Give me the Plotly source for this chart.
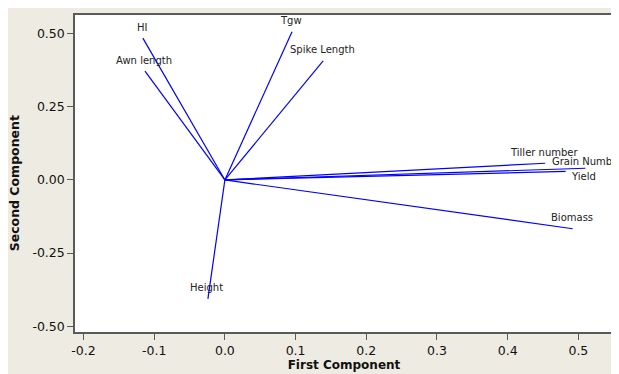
import plotly.graph_objects as go

# Loadings (first and second principal component)
variables = ["HI", "Awn length", "Tgw", "Spike Length", "Tiller number",
             "Grain Number", "Yield", "Biomass", "Height"]
first_component = [-0.116, -0.113, 0.095, 0.139, 0.453, 0.510, 0.482, 0.492, -0.024]
second_component = [0.485, 0.372, 0.507, 0.407, 0.057, 0.040, 0.029, -0.167, -0.407]

x_ticks = [-0.2, -0.1, 0.0, 0.1, 0.2, 0.3, 0.4, 0.5]
x_tick_labels = ["-0.2", "-0.1", "0.0", "0.1", "0.2", "0.3", "0.4", "0.5"]
y_ticks = [-0.50, -0.25, 0.00, 0.25, 0.50]
y_tick_labels = ["-0.50", "-0.25", "0.00", "0.25", "0.50"]

# label offsets in pixels (style only)
label_shift = {"Grain Number": (2, 7), "Yield": (18, -5)}

BEIGE = "#EEEBE2"
FRAME = "#5a5a5a"

xs, ys = [], []
for x, y in zip(first_component, second_component):
    xs += [0, x, None]
    ys += [0, y, None]

fig = go.Figure()
fig.add_trace(go.Scatter(x=xs, y=ys, mode="lines",
                         line=dict(color="#0000FF", width=1.2),
                         hoverinfo="skip", showlegend=False))

for name, x, y in zip(variables, first_component, second_component):
    dx, dy = label_shift.get(name, (-1, 11))
    fig.add_annotation(x=x, y=y, text=name, showarrow=False,
                       xshift=dx, yshift=dy,
                       font=dict(family="DejaVu Sans", size=10, color="#222222"))

# y-axis title placed as an annotation (slightly below plot centre, as in the reference)
fig.add_annotation(xref="paper", yref="paper", x=-0.1134, y=0.469,
                   xanchor="center", yanchor="middle", textangle=-90,
                   text="<b>Second Component</b>", showarrow=False,
                   font=dict(family="DejaVu Sans", size=12.5, color="#111111"))

fig.update_layout(
    width=619, height=374,
    margin=dict(l=67, r=14, t=5, b=50),
    paper_bgcolor=BEIGE, plot_bgcolor="white",
    font=dict(family="DejaVu Sans", color="#111111"),
    showlegend=False,
)
fig.update_xaxes(
    range=[-0.212, 0.549], tickvals=x_ticks, ticktext=x_tick_labels,
    showgrid=False, zeroline=False,
    showline=True, linecolor=FRAME, linewidth=1.5, mirror=True,
    ticks="outside", ticklen=6, tickcolor=FRAME, tickwidth=1,
    tickfont=dict(size=12.5, color="#111111"),
    title=dict(text="<b>First Component</b>", standoff=2,
               font=dict(size=12, color="#111111")),
)
fig.update_yaxes(
    range=[-0.520, 0.564], tickvals=y_ticks, ticktext=y_tick_labels,
    showgrid=False, zeroline=False,
    showline=True, linecolor=FRAME, linewidth=1.5, mirror=True,
    ticks="outside", ticklen=6, tickcolor=FRAME, tickwidth=1,
    tickfont=dict(size=12.5, color="#111111"),
)

fig.write_html("out.html")
